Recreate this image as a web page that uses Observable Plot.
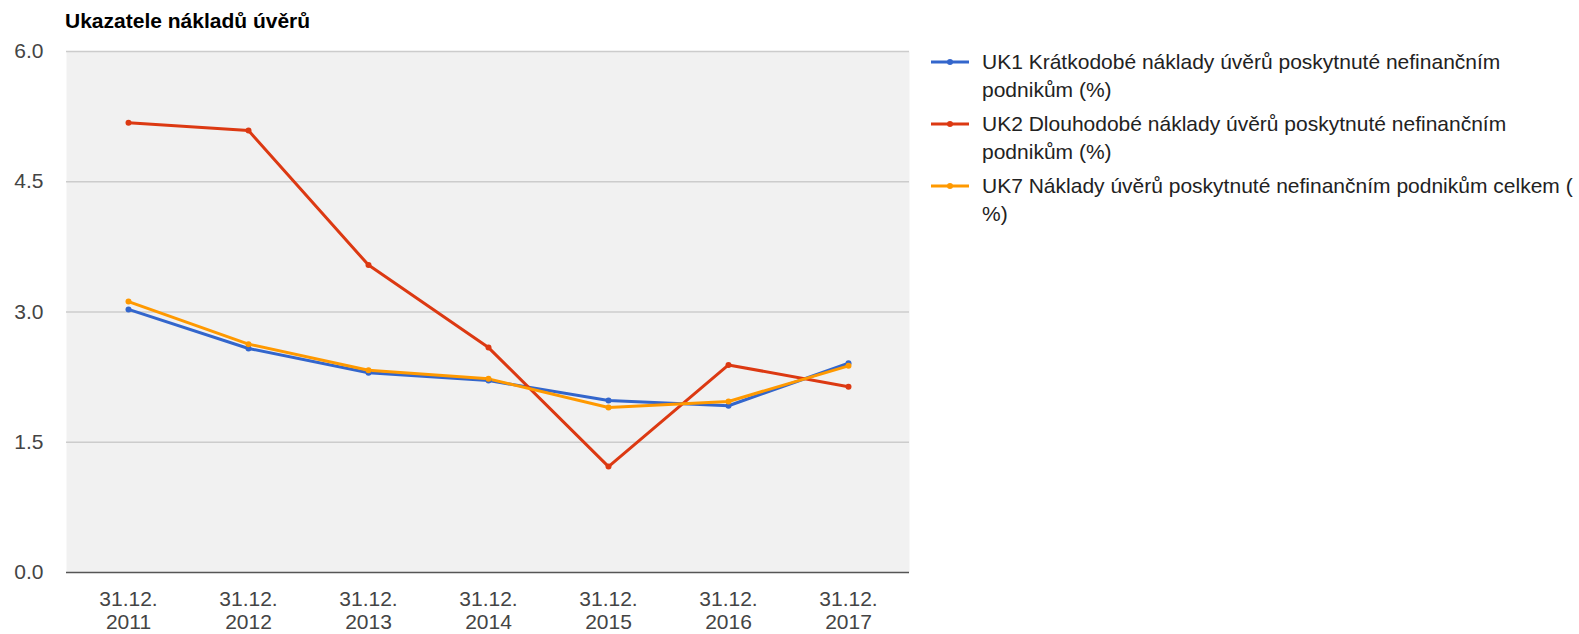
<!DOCTYPE html>
<html>
<head>
<meta charset="utf-8">
<script src="https://cdn.jsdelivr.net/npm/d3@7"></script>
<script src="https://cdn.jsdelivr.net/npm/@observablehq/plot@0.6"></script>
<style>
  html, body { margin: 0; padding: 0; background: #fff; }
  body { font-family: "Liberation Sans", Arial, sans-serif; }
  #wrap { position: relative; width: 1579px; height: 634px; overflow: hidden; }
  #title { position: absolute; left: 65px; top: 10px; font-size: 21px; line-height: 21px; font-weight: bold; color: #000; white-space: nowrap; }
  #legend { position: absolute; left: 931px; top: 48px; font-size: 21px; line-height: 28px; color: #222; }
  .entry { display: flex; align-items: flex-start; margin-bottom: 6px; }
  .entry svg { flex: none; }
  .entry .txt { margin-left: 13px; white-space: nowrap; }
</style>
</head>
<body>
<div id="wrap">
  <div id="chart"></div>
  <div id="title"></div>
  <div id="legend"></div>
</div>
<script>
const titleText = "Ukazatele nákladů úvěrů";
const categories = ["2011", "2012", "2013", "2014", "2015", "2016", "2017"];
const xTickLabels = ["31.12.\n2011", "31.12.\n2012", "31.12.\n2013", "31.12.\n2014", "31.12.\n2015", "31.12.\n2016", "31.12.\n2017"];
const yTicks = [0, 1.5, 3, 4.5, 6];
const seriesNames = [
  "UK1 Krátkodobé náklady úvěrů poskytnuté nefinančním podnikům (%)",
  "UK2 Dlouhodobé náklady úvěrů poskytnuté nefinančním podnikům (%)",
  "UK7 Náklady úvěrů poskytnuté nefinančním podnikům celkem (%)"
];
const legendLines = [
  ["UK1 Krátkodobé náklady úvěrů poskytnuté nefinančním", "podnikům (%)"],
  ["UK2 Dlouhodobé náklady úvěrů poskytnuté nefinančním", "podnikům (%)"],
  ["UK7 Náklady úvěrů poskytnuté nefinančním podnikům celkem (", "%)"]
];
const seriesColors = ["#3366cc", "#dc3912", "#ff9900"];
const uk1 = [3.03, 2.58, 2.30, 2.21, 1.98, 1.92, 2.41];
const uk2 = [5.18, 5.09, 3.54, 2.59, 1.22, 2.39, 2.14];
const uk7 = [3.12, 2.63, 2.33, 2.23, 1.90, 1.97, 2.38];

const seriesValues = [uk1, uk2, uk7];
const data = [];
seriesValues.forEach((vals, s) => {
  vals.forEach((v, i) => data.push({series: seriesNames[s], cat: categories[i], value: v}));
});
const labelOf = Object.fromEntries(categories.map((c, i) => [c, xTickLabels[i]]));

const chart = Plot.plot({
  width: 1579,
  height: 634,
  marginLeft: 66,
  marginRight: 670,
  marginTop: 51,
  marginBottom: 62,
  style: {fontFamily: "'Liberation Sans', Arial, sans-serif", fontSize: "21px", background: "transparent"},
  x: {type: "point", domain: categories, padding: 0.5, align: 0.5, axis: null},
  y: {domain: [0, 6], axis: null},
  color: {domain: seriesNames, range: seriesColors},
  marks: [
    Plot.frame({fill: "#f1f1f1", stroke: "none"}),
    Plot.ruleY(yTicks.filter(d => d > 0), {stroke: "#cccccc", strokeWidth: 1.5}),
    Plot.ruleY([0], {stroke: "#555555", strokeWidth: 1.5}),
    Plot.line(data, {x: "cat", y: "value", z: "series", stroke: "series", strokeWidth: 3}),
    Plot.dot(data, {x: "cat", y: "value", fill: "series", r: 3, stroke: "none"}),
    Plot.text(yTicks, {y: d => d, text: d => d.toFixed(1), frameAnchor: "left", textAnchor: "end", dx: -23, fill: "#444", fontSize: 21}),
    Plot.text(categories, {x: d => d, text: d => labelOf[d], frameAnchor: "bottom", lineAnchor: "top", dy: 17, lineHeight: 1.1, fill: "#444", fontSize: 21})
  ]
});
document.getElementById("chart").appendChild(chart);
document.getElementById("title").textContent = titleText;

const legend = document.getElementById("legend");
legendLines.forEach((lines, i) => {
  const entry = document.createElement("div");
  entry.className = "entry";
  const ns = "http://www.w3.org/2000/svg";
  const svg = document.createElementNS(ns, "svg");
  svg.setAttribute("width", 38);
  svg.setAttribute("height", 28);
  const ln = document.createElementNS(ns, "line");
  ln.setAttribute("x1", 0); ln.setAttribute("x2", 38);
  ln.setAttribute("y1", 14); ln.setAttribute("y2", 14);
  ln.setAttribute("stroke", seriesColors[i]); ln.setAttribute("stroke-width", 3);
  const c = document.createElementNS(ns, "circle");
  c.setAttribute("cx", 19); c.setAttribute("cy", 14); c.setAttribute("r", 3);
  c.setAttribute("fill", seriesColors[i]);
  svg.appendChild(ln); svg.appendChild(c);
  const txt = document.createElement("div");
  txt.className = "txt";
  lines.forEach(l => {
    const d = document.createElement("div");
    d.textContent = l;
    txt.appendChild(d);
  });
  entry.appendChild(svg);
  entry.appendChild(txt);
  legend.appendChild(entry);
});
</script>
</body>
</html>
